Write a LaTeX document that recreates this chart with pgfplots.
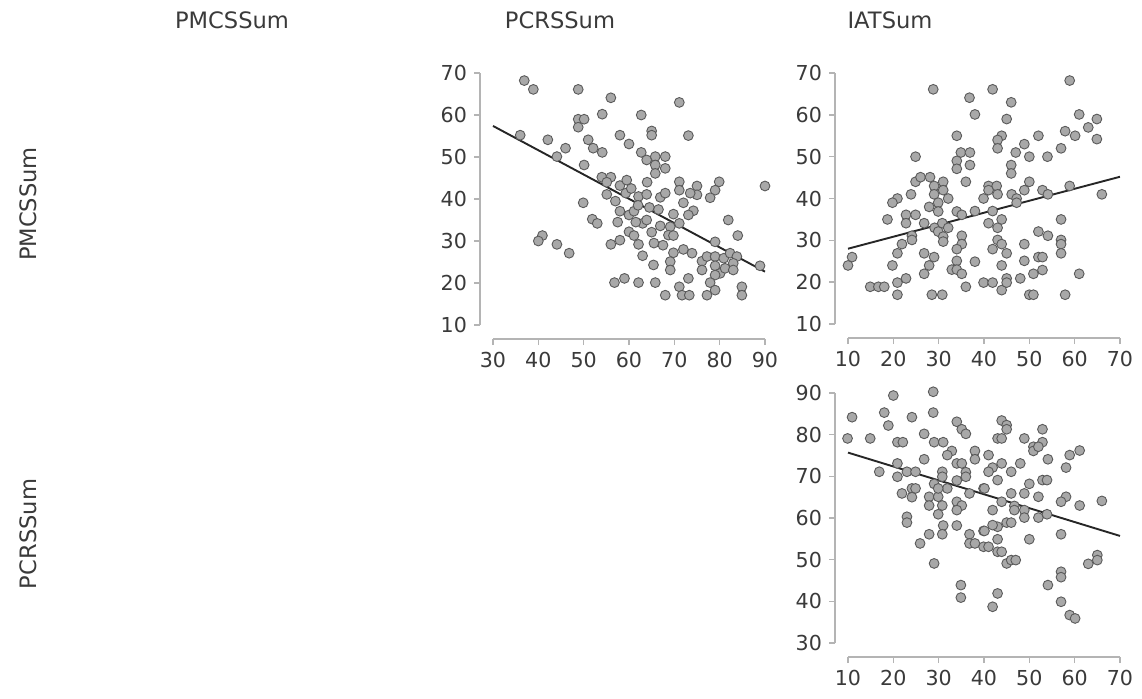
\documentclass[border=0pt]{standalone}
\usepackage{pgfplots}
\pgfplotsset{compat=1.18}
\usepackage{fontspec}
\setmainfont{DejaVu Sans}
\definecolor{axgray}{HTML}{B4B4B4}
\definecolor{ptfill}{HTML}{A8A8A8}
\definecolor{ptdraw}{HTML}{5A5A5A}
\definecolor{txt}{HTML}{3A3A3A}
\pgfplotsset{
  jasp/.style={
    scale only axis,
    width=136pt,
    axis lines*=left,
    axis x line shift=7pt,
    axis y line shift=6.5pt,
    axis line style={axgray, line width=0.75pt},
    every tick/.style={axgray, line width=0.75pt},
    tick align=outside,
    major tick length=3pt,
    tick label style={font=\fontsize{10.3}{12}\selectfont, text=txt},
    /pgf/number format/assume math mode=true,
    clip=false,
    anchor=south west,
  },
  pts/.style={only marks, mark=*, mark size=2.45pt,
    mark options={fill=ptfill, draw=ptdraw, line width=0.45pt}},
  fitl/.style={no marks, draw=black!85, line width=0.95pt},
}
\pgfplotstableread{
x y
36.9 68.2
38.9 66.1
48.8 66.1
56.0 64.1
54.1 60.2
48.8 59.0
50.1 59.0
48.8 57.1
36.0 55.2
42.1 54.1
51.0 54.1
52.1 52.1
54.1 51.1
58.0 55.2
60.0 53.1
46.0 52.1
44.1 50.1
62.7 60.0
62.7 51.1
50.1 48.1
54.0 45.2
56.0 45.2
55.1 44.0
58.0 43.2
55.1 41.1
59.3 41.4
62.1 40.6
49.9 39.1
58.0 37.1
60.0 36.2
61.1 37.1
63.0 34.2
51.9 35.2
53.0 34.2
40.9 31.3
40.0 30.0
44.1 29.2
46.8 27.1
56.0 29.2
58.0 30.2
60.0 32.2
61.1 31.3
62.1 29.2
56.8 20.1
59.0 21.1
62.1 20.1
71.1 63.0
65.0 56.2
65.0 55.2
73.1 55.1
63.9 49.3
65.8 50.1
68.0 50.1
65.8 48.1
68.0 47.3
65.8 46.1
71.1 44.1
71.1 42.1
75.0 43.1
75.0 41.0
79.9 44.1
79.0 42.1
77.9 40.3
73.5 41.4
72.0 39.1
74.2 37.2
73.1 36.2
69.8 36.4
63.9 41.1
66.9 40.4
68.0 41.4
63.9 35.0
65.0 32.1
66.9 33.6
69.1 33.4
68.7 31.4
69.8 31.3
71.1 34.2
81.9 35.0
79.0 29.8
84.0 31.3
69.8 27.2
72.0 28.0
73.9 27.1
76.1 25.2
77.2 26.3
79.0 26.3
80.9 25.9
82.3 27.1
83.8 26.3
83.0 24.7
88.9 24.1
65.4 24.3
69.1 25.1
69.1 23.1
76.1 23.1
79.0 24.1
80.1 22.3
79.0 21.9
81.2 23.5
83.0 23.1
73.1 21.1
65.8 20.1
77.9 20.1
79.0 18.3
77.2 17.1
71.1 19.1
71.7 17.1
73.3 17.1
68.0 17.1
84.9 19.1
84.9 17.1
90.0 43.1
60.5 42.5
62.0 38.5
64.5 38.0
57.0 39.5
59.5 44.5
64.0 44.0
66.5 37.5
61.5 34.5
65.5 29.5
67.5 29.0
63.0 26.5
57.5 34.5
}\tabA
\pgfplotstableread{
x y
28.8 66.1
36.8 64.1
38.0 60.1
34.0 55.0
34.9 51.0
36.9 51.0
34.0 49.0
34.0 47.1
36.9 48.0
24.9 50.0
24.9 44.0
26.0 45.1
28.1 45.1
29.0 43.0
31.0 44.0
29.0 41.0
31.0 42.0
32.1 40.0
36.0 44.0
23.9 41.0
20.9 40.0
19.8 39.0
27.9 38.0
29.9 39.0
29.9 36.9
34.0 36.9
35.1 36.1
38.0 37.0
18.7 35.0
22.8 36.1
24.9 36.1
22.8 34.1
26.8 34.1
29.1 33.0
30.8 34.1
32.1 33.0
24.1 31.1
24.1 30.1
29.9 32.1
31.0 30.9
31.0 29.7
35.1 31.1
35.1 29.1
34.0 27.9
21.9 29.1
20.9 26.9
19.8 24.0
26.8 26.9
29.0 26.0
27.9 24.0
26.8 22.0
10.9 26.0
10.0 24.0
34.0 25.1
32.9 23.0
34.0 23.0
35.1 22.0
38.0 24.9
20.9 19.9
22.8 20.9
14.9 18.9
16.7 18.9
18.0 18.9
20.9 17.0
36.0 18.9
28.5 17.0
30.8 17.0
39.9 40.0
58.9 68.2
41.9 66.1
46.0 63.0
45.0 59.0
61.0 60.1
64.9 59.0
63.0 57.0
64.9 54.2
57.9 56.1
60.1 55.0
52.0 55.0
43.9 55.0
43.0 54.0
43.0 52.0
48.9 53.0
47.0 51.0
50.0 50.0
54.0 50.0
57.0 52.0
46.0 48.0
46.0 46.0
50.0 44.0
41.0 43.0
42.8 43.0
41.0 42.0
43.0 41.0
46.1 41.0
47.2 40.0
47.2 39.0
48.9 42.0
52.9 42.0
54.1 41.0
58.9 43.0
66.0 41.0
41.9 37.0
43.9 35.0
41.0 34.1
43.0 33.0
57.0 35.0
52.0 32.1
54.1 31.1
57.0 30.1
57.0 29.1
57.0 26.9
43.0 30.1
43.9 29.1
41.9 27.9
45.0 26.9
48.9 29.1
48.9 25.1
52.0 26.0
52.9 26.0
43.9 24.0
50.9 22.0
52.9 22.9
61.0 22.0
39.9 19.9
41.9 19.9
43.9 18.1
45.0 20.9
45.0 19.9
48.0 20.9
50.0 17.0
50.9 17.0
57.9 17.0
}\tabB
\pgfplotstableread{
x y
20.0 89.4
28.8 90.3
10.9 84.2
18.0 85.3
18.9 82.2
24.1 84.2
28.8 85.3
34.0 83.1
35.1 81.3
36.0 80.2
9.9 79.1
14.9 79.1
26.8 80.2
20.9 78.2
22.1 78.2
29.0 78.2
31.0 78.2
32.9 76.1
31.9 75.1
38.0 76.1
38.0 74.1
26.8 74.1
34.0 73.1
35.1 73.1
20.9 73.1
16.9 71.1
20.9 69.9
23.0 71.1
24.9 71.1
30.8 71.1
30.8 69.9
36.0 71.0
36.0 69.9
34.0 69.0
29.0 68.2
24.1 67.1
24.9 67.1
31.9 67.1
21.9 65.9
24.1 65.0
27.9 65.1
29.9 65.1
29.9 67.1
36.8 65.9
39.9 67.1
27.9 63.0
30.8 63.0
34.0 63.9
35.1 63.0
34.0 61.9
29.9 60.9
23.0 60.3
23.0 58.9
31.0 58.2
34.0 58.2
39.9 56.9
27.9 56.1
30.8 56.1
36.8 56.1
36.8 53.9
38.0 53.9
25.9 53.9
29.0 49.1
34.9 43.9
34.9 40.9
39.9 53.1
43.9 83.4
45.0 82.3
45.0 81.3
43.0 79.1
43.9 79.1
48.9 79.1
52.9 81.3
50.9 77.1
52.9 78.2
50.9 76.1
52.0 77.1
61.1 76.2
58.9 75.1
41.0 75.1
54.1 74.1
58.1 72.1
41.9 72.1
43.9 73.1
48.0 73.1
46.0 71.1
41.0 71.1
43.0 69.1
52.9 69.1
53.9 69.1
50.0 68.2
48.9 65.9
46.0 65.9
40.1 67.1
52.0 65.1
58.1 65.1
57.0 63.9
61.1 63.0
66.0 64.1
41.9 61.9
43.9 63.9
46.7 62.9
46.7 61.9
48.9 61.9
48.9 60.1
52.0 60.1
53.9 60.9
45.0 58.9
46.0 58.9
43.0 57.9
41.9 58.3
40.1 56.9
57.0 56.1
50.0 54.9
43.0 54.9
41.0 53.1
43.0 51.9
43.9 51.9
45.0 49.1
46.0 49.9
47.0 49.9
65.0 51.1
65.0 49.9
63.0 49.0
57.0 47.1
57.0 45.8
54.1 43.9
43.0 41.9
41.9 38.7
57.0 39.9
58.9 36.7
60.1 35.9
}\tabC
\begin{document}
\begin{tikzpicture}[x=1pt,y=1pt]
\path[use as bounding box] (0,0) rectangle (571,-349);
\begin{axis}[jasp, at={(246.5pt,-162.5pt)}, height=126pt,
  xmin=30, xmax=90, ymin=10, ymax=70,
  xtick={30,40,...,90}, ytick={10,20,...,70}]
  \addplot[pts] table[x=x,y=y] {\tabA};
  \addplot[fitl] coordinates {(30,57.4) (90,22.7)};
\end{axis}
\begin{axis}[jasp, at={(424pt,-162pt)}, height=125.5pt,
  xmin=10, xmax=70, ymin=10, ymax=70,
  xtick={10,20,...,70}, ytick={10,20,...,70}]
  \addplot[pts] table[x=x,y=y] {\tabB};
  \addplot[fitl] coordinates {(10,28.0) (70,45.2)};
\end{axis}
\begin{axis}[jasp, at={(424pt,-321.5pt)}, height=125pt,
  xmin=10, xmax=70, ymin=30, ymax=90,
  xtick={10,20,...,70}, ytick={30,40,...,90}]
  \addplot[pts] table[x=x,y=y] {\tabC};
  \addplot[fitl] coordinates {(10,75.7) (70,55.7)};
\end{axis}
\begin{scope}[every node/.style={font=\fontsize{11.3}{13}\selectfont, text=txt}]
\node at (116,-10) {PMCSSum};
\node at (280,-10) {PCRSSum};
\node at (445,-10) {IATSum};
\node[rotate=90] at (14,-102) {PMCSSum};
\node[rotate=90] at (14,-267) {PCRSSum};
\end{scope}
\end{tikzpicture}
\end{document}
